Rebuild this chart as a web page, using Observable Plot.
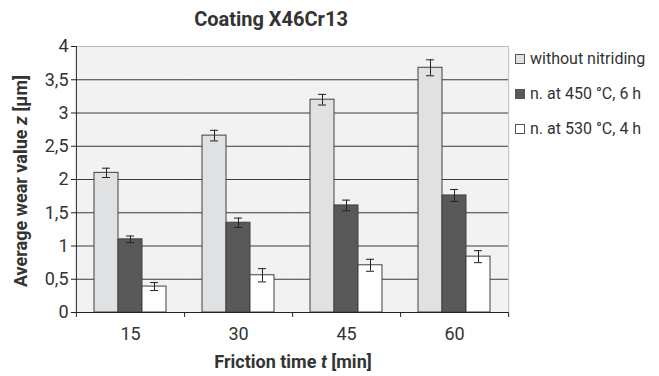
<!DOCTYPE html>
<html>
<head>
<meta charset="utf-8">
<script src="https://cdn.jsdelivr.net/npm/d3@7"></script>
<script src="https://cdn.jsdelivr.net/npm/@observablehq/plot@0.6"></script>
<style>
  body { margin: 0; background: #fff; font-family: Roboto, "Noto Sans", sans-serif; color: #333; }
  #wrap { position: relative; width: 659px; height: 376px; overflow: hidden; }
  #wrap svg { position: absolute; left: 0; top: 0; }
  .title { position: absolute; top: 7px; left: 171px; width: 200px; text-align: center; font-weight: bold; font-size: 20px; color: #333; white-space: nowrap; }
  .xlabel { position: absolute; top: 351px; left: 193px; width: 200px; text-align: center; font-weight: bold; font-size: 18px; white-space: nowrap; }
  .ylabel { position: absolute; left: 20px; top: 181px; transform: translate(-50%, -50%) rotate(-90deg); font-weight: bold; font-size: 18px; white-space: nowrap; }
  .legend { position: absolute; left: 515px; top: 48px; font-size: 16px; }
  .legend .row { display: flex; align-items: center; height: 20px; margin-bottom: 15px; white-space: nowrap; }
  .legend .sw { width: 8px; height: 8px; border: 1px solid #555; margin-right: 5px; margin-top: 2px; box-sizing: content-box; }
</style>
</head>
<body>
<div id="wrap">
  <div class="title">Coating X46Cr13</div>
  <div class="ylabel">Average wear value <i>z</i> [µm]</div>
  <div class="xlabel">Friction time <i>t</i> [min]</div>
  <div class="legend" id="legend"></div>
</div>
<script>
// ---- data ----
const times = [15, 30, 45, 60];
const seriesNames = ["without nitriding", "n. at 450 °C, 6 h", "n. at 530 °C, 4 h"];
const seriesColors = ["#e0e1e3", "#595959", "#ffffff"];
const withoutNitriding = [2.10, 2.66, 3.20, 3.68];
const withoutNitridingErr = [0.07, 0.08, 0.08, 0.12];
const nitrided450 = [1.10, 1.35, 1.61, 1.76];
const nitrided450Err = [0.05, 0.07, 0.08, 0.09];
const nitrided530 = [0.39, 0.56, 0.71, 0.84];
const nitrided530Err = [0.06, 0.10, 0.09, 0.09];
const yTicks = [0, 0.5, 1, 1.5, 2, 2.5, 3, 3.5, 4];

const values = [withoutNitriding, nitrided450, nitrided530];
const errs = [withoutNitridingErr, nitrided450Err, nitrided530Err];
const data = [];
times.forEach((t, i) => seriesNames.forEach((s, j) => data.push({ time: t, series: s, value: values[j][i], err: errs[j][i] })));

const W = 659, H = 376, mL = 75, mR = 151, mT = 46, mB = 64;
const step = (W - mL - mR) / times.length;
const innerH = H - mT - mB;

const chart = Plot.plot({
  width: W, height: H,
  marginLeft: mL, marginRight: mR, marginTop: mT, marginBottom: mB,
  style: { fontFamily: "Roboto, sans-serif", fontSize: "18px", color: "#333", background: "transparent", overflow: "visible" },
  fx: { domain: times, padding: 0, label: null, axis: null },
  x: { domain: seriesNames, paddingInner: 0, paddingOuter: 0.745, axis: null },
  y: { domain: [0, 4], label: null, axis: null },
  color: { domain: seriesNames, range: seriesColors },
  marks: [
    Plot.frame({ fill: "#f2f2f2", stroke: "none" }),
    Plot.ruleY(yTicks.filter(d => d > 0 && d < 4), { stroke: "#3a3a3a" }),
    Plot.ruleY([4], { stroke: "#bdbdbd" }),
    Plot.axisFx({ anchor: "bottom", ticks: [60], dx: step / 2, tickSize: -innerH, text: null, stroke: "#bdbdbd", label: null }),
    Plot.barY(data, { fx: "time", x: "series", y: "value", fill: "series", stroke: "#404040", strokeWidth: 1 }),
    Plot.ruleX(data, { fx: "time", x: "series", y1: d => d.value - d.err, y2: d => d.value + d.err, stroke: "#222" }),
    Plot.tickY(data, { fx: "time", x: "series", y: d => d.value + d.err, insetLeft: 8, insetRight: 8, stroke: "#222" }),
    Plot.tickY(data, { fx: "time", x: "series", y: d => d.value - d.err, insetLeft: 8, insetRight: 8, stroke: "#222" }),
    Plot.ruleY([0], { stroke: "#222" }),
    Plot.axisFx({ anchor: "bottom", ticks: [15], dx: -step / 2, tickSize: -innerH, text: null, stroke: "#222", label: null }),
    Plot.axisFx({ anchor: "bottom", ticks: [15], dx: -step / 2, tickSize: 5, text: null, stroke: "#222", label: null }),
    Plot.axisFx({ anchor: "bottom", dx: step / 2, tickSize: 5, text: null, stroke: "#222", label: null }),
    Plot.axisFx({ anchor: "bottom", tickSize: 0, tickPadding: 15, fontSize: 18, label: null }),
    Plot.axisY({ ticks: yTicks, tickFormat: d => String(d).replace(".", ","), tickSize: 5, tickPadding: 3, fontSize: 18, label: null, stroke: "#222" })
  ]
});
document.getElementById("wrap").prepend(chart);

// legend
const legend = document.getElementById("legend");
seriesNames.forEach((s, j) => {
  const row = document.createElement("div");
  row.className = "row";
  const sw = document.createElement("span");
  sw.className = "sw";
  sw.style.background = seriesColors[j];
  const tx = document.createElement("span");
  tx.textContent = s;
  row.appendChild(sw); row.appendChild(tx);
  legend.appendChild(row);
});
</script>
</body>
</html>
